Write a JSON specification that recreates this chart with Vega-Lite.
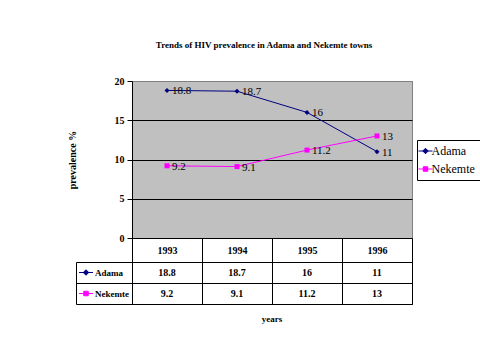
{
  "$schema": "https://vega.github.io/schema/vega-lite/v6.json",
  "padding": {"left": 66, "top": 40, "right": 5, "bottom": 5},
  "background": "white",
  "data": {"values": [
    {"year": "1993", "series": "Adama", "value": 18.8},
    {"year": "1994", "series": "Adama", "value": 18.7},
    {"year": "1995", "series": "Adama", "value": 16},
    {"year": "1996", "series": "Adama", "value": 11},
    {"year": "1993", "series": "Nekemte", "value": 9.2},
    {"year": "1994", "series": "Nekemte", "value": 9.1},
    {"year": "1995", "series": "Nekemte", "value": 11.2},
    {"year": "1996", "series": "Nekemte", "value": 13}
  ]},
  "spacing": 24,
  "bounds": "flush",
  "vconcat": [
    {
      "width": 280,
      "height": 157,
      "title": {"text": "Trends of HIV prevalence in Adama and Nekemte towns", "fontSize": 9, "fontWeight": "bold", "offset": 26, "dx": -8, "color": "black"},
      "view": {"fill": "#C0C0C0", "stroke": "#808080"},
      "encoding": {
        "x": {"field": "year", "type": "ordinal", "axis": {"labels": false, "ticks": false, "domain": true, "domainColor": "black", "title": null, "grid": false}},
        "y": {"field": "value", "type": "quantitative", "scale": {"domain": [0, 20]},
          "axis": {"values": [0, 5, 10, 15, 20], "title": "prevalence %", "titleFontSize": 10, "titleFontWeight": "bold", "titlePadding": 37, "titleColor": "black",
            "labelFontSize": 10, "labelFontWeight": "bold", "labelPadding": 3, "labelColor": "black", "tickSize": 5, "tickColor": "black", "domainColor": "black",
            "grid": true, "gridColor": {"condition": {"test": "datum.value === 20", "value": "#808080"}, "value": "black"}}},
        "color": {"field": "series", "type": "nominal", "scale": {"domain": ["Adama", "Nekemte"], "range": ["#000080", "#FF00FF"]},
          "legend": {"orient": "none", "legendX": 285, "legendY": 59, "title": null, "strokeColor": "black", "fillColor": "white", "padding": 5,
            "labelFont": "Liberation Serif", "labelFontSize": 12, "labelFontWeight": "normal", "labelColor": "black", "symbolSize": 100, "symbolOffset": -2.5, "labelOffset": 0, "rowPadding": 6, "symbolStrokeWidth": 1, "symbolOpacity": 1,
            "encode": {"symbols": {"update": {
              "shape": {"signal": "datum.value === 'Adama' ? 'M-1.4,0H1.4M0,-0.55L0.55,0L0,0.55L-0.55,0Z' : 'M-1.4,0H1.4M-0.45,-0.45H0.45V0.45H-0.45Z'"},
              "stroke": {"signal": "datum.value === 'Adama' ? '#000080' : '#FF00FF'"},
              "fill": {"signal": "datum.value === 'Adama' ? '#000080' : '#FF00FF'"},
              "opacity": {"value": 1}, "strokeWidth": {"value": 1}}}}}}
      },
      "layer": [
        {"mark": {"type": "line", "strokeWidth": 1}},
        {"mark": {"type": "point", "filled": true, "opacity": 1, "size": 25},
          "encoding": {"shape": {"condition": {"test": "datum.series === 'Adama'", "value": "diamond"}, "value": "square"}}},
        {"mark": {"type": "text", "align": "left", "dx": 5, "dy": 1, "fontSize": 11, "color": "black", "font": "Liberation Serif"},
          "encoding": {"color": {"value": "black"}, "text": {"field": "value", "type": "quantitative"}}}
      ]
    },
    {
      "width": 280,
      "height": 42,
      "view": {"fill": "white", "stroke": "black"},
      "title": {"text": "years", "orient": "bottom", "fontSize": 9, "fontWeight": "bold", "offset": 10, "color": "black"},
      "encoding": {
        "x": {"field": "year", "type": "ordinal", "scale": {"type": "band", "paddingInner": 0, "paddingOuter": 0},
          "axis": {"orient": "top", "title": null, "tickBand": "extent", "tickSize": 24, "tickColor": "black", "domainColor": "black", "grid": true, "gridColor": "black",
            "labelPadding": -12, "labelBaseline": "middle", "labelFontWeight": "bold", "labelFontSize": 10, "labelAngle": 0, "labelColor": "black"}}
      },
      "layer": [
        {"mark": {"type": "text", "fontWeight": "bold", "fontSize": 10, "color": "black", "font": "Liberation Serif"},
          "encoding": {
            "y": {"field": "series", "type": "nominal", "scale": {"type": "band", "paddingInner": 0, "paddingOuter": 0, "domain": ["Adama", "Nekemte"]},
              "axis": {"title": null, "labels": false, "tickBand": "extent", "tickSize": 56, "tickColor": "black", "domainColor": "black", "grid": true, "gridColor": "black"}},
            "text": {"field": "value", "type": "quantitative"}}},
        {"mark": {"type": "point", "opacity": 0, "filled": true},
          "encoding": {
            "y": {"field": "series", "type": "nominal", "scale": {"type": "band", "paddingInner": 0, "paddingOuter": 0, "domain": ["Adama", "Nekemte"]},
              "axis": {"orient": "left", "offset": 56, "labels": false, "ticks": false, "domain": true, "domainColor": "black", "grid": false, "title": null}},
            "color": {"field": "series", "type": "nominal", "scale": {"domain": ["Adama", "Nekemte"], "range": ["#000080", "#FF00FF"]},
              "legend": {"orient": "none", "legendX": -51.5, "legendY": 5, "title": null, "padding": 0,
                "labelFont": "Liberation Serif", "labelFontSize": 9, "labelFontWeight": "bold", "labelColor": "black", "symbolSize": 100, "symbolOffset": 0, "labelOffset": 3.5, "rowPadding": 10, "symbolOpacity": 1, "symbolStrokeWidth": 1,
                "encode": {"symbols": {"update": {
                  "shape": {"signal": "datum.value === 'Adama' ? 'M-1.4,0H1.4M0,-0.55L0.55,0L0,0.55L-0.55,0Z' : 'M-1.4,0H1.4M-0.45,-0.45H0.45V0.45H-0.45Z'"},
                  "stroke": {"signal": "datum.value === 'Adama' ? '#000080' : '#FF00FF'"},
                  "fill": {"signal": "datum.value === 'Adama' ? '#000080' : '#FF00FF'"},
                  "opacity": {"value": 1}, "strokeWidth": {"value": 1}}}}}}}}
      ],
      "resolve": {"scale": {"y": "independent"}}
    }
  ],
  "resolve": {"scale": {"x": "independent", "color": "independent"}, "legend": {"color": "independent"}},
  "config": {"font": "Liberation Serif", "axis": {"labelFont": "Liberation Serif", "titleFont": "Liberation Serif"}, "legend": {"labelColor": "black", "labelFont": "Liberation Serif"}}
}
